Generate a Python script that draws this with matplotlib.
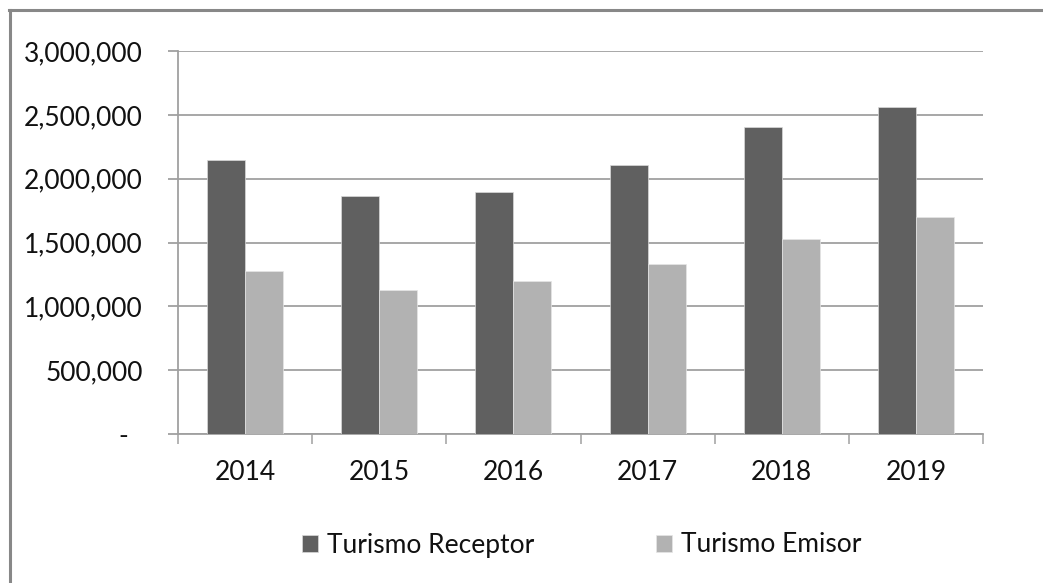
import numpy as np
import matplotlib
matplotlib.use("Agg")
import matplotlib.pyplot as plt
from matplotlib.lines import Line2D
from matplotlib.ticker import FuncFormatter

years = ["2014", "2015", "2016", "2017", "2018", "2019"]
receptor = [2144000, 1867000, 1898000, 2110000, 2401000, 2558000]
emisor = [1275000, 1128000, 1196000, 1332000, 1531000, 1701000]

plt.rcParams["font.family"] = ["Lato", "DejaVu Sans"]

W, H = 1043, 583
fig = plt.figure(figsize=(W / 100, H / 100), dpi=100)
ax = fig.add_axes([178 / W, 1 - 434 / H, (983 - 178) / W, (434 - 51) / H])

x = np.arange(len(years))
bw = 0.283
ax.bar(x - bw / 2, receptor, width=bw, color="#606060",
       edgecolor="#d9d9d9", linewidth=0.5, label="Turismo Receptor", zorder=3)
ax.bar(x + bw / 2, emisor, width=bw, color="#b2b2b2",
       edgecolor="#e6e6e6", linewidth=0.5, label="Turismo Emisor", zorder=3)

ax.set_xlim(-0.5, len(years) - 0.5)
ax.set_ylim(0, 3000000)
ax.set_yticks(np.arange(0, 3000001, 500000))


def fmt(v, pos):
    if v == 0:
        return "-  "
    return f"{int(v):,}"


ax.yaxis.set_major_formatter(FuncFormatter(fmt))
ax.grid(axis="y", color="#a0a0a0", linewidth=1.3, zorder=0)

# category boundaries as ticks, labels at centers
ax.set_xticks(np.arange(-0.5, len(years)), minor=False)
ax.set_xticklabels([])
ax.set_xticks(x, minor=True)
ax.set_xticklabels(years, minor=True)
ax.tick_params(axis="x", which="major", length=7.5, color="#a0a0a0", width=1.1)
ax.tick_params(axis="x", which="minor", length=0, pad=19, labelsize=19,
               labelcolor="#111111")
ax.tick_params(axis="y", length=7.5, color="#a0a0a0", width=1.3, pad=18,
               labelsize=19, labelcolor="#111111")

for side in ["top", "right"]:
    ax.spines[side].set_visible(False)
for side in ["left", "bottom"]:
    ax.spines[side].set_color("#a0a0a0")
    ax.spines[side].set_linewidth(1.3)

fig.legend(loc="center", bbox_to_anchor=(582 / W, 1 - 545 / H), ncol=2,
           frameon=False, fontsize=19, handlelength=0.6, handleheight=0.6,
           handletextpad=0.35, columnspacing=4.6, labelcolor="#111111")

# outer chart border
fig.add_artist(Line2D([9 / W, 1], [1 - 9.5 / H, 1 - 9.5 / H],
                      color="#888888", linewidth=2.2))
fig.add_artist(Line2D([9.5 / W, 9.5 / W], [0, 1 - 9.5 / H],
                      color="#888888", linewidth=2.2))

fig.savefig("out.png", dpi=100)
